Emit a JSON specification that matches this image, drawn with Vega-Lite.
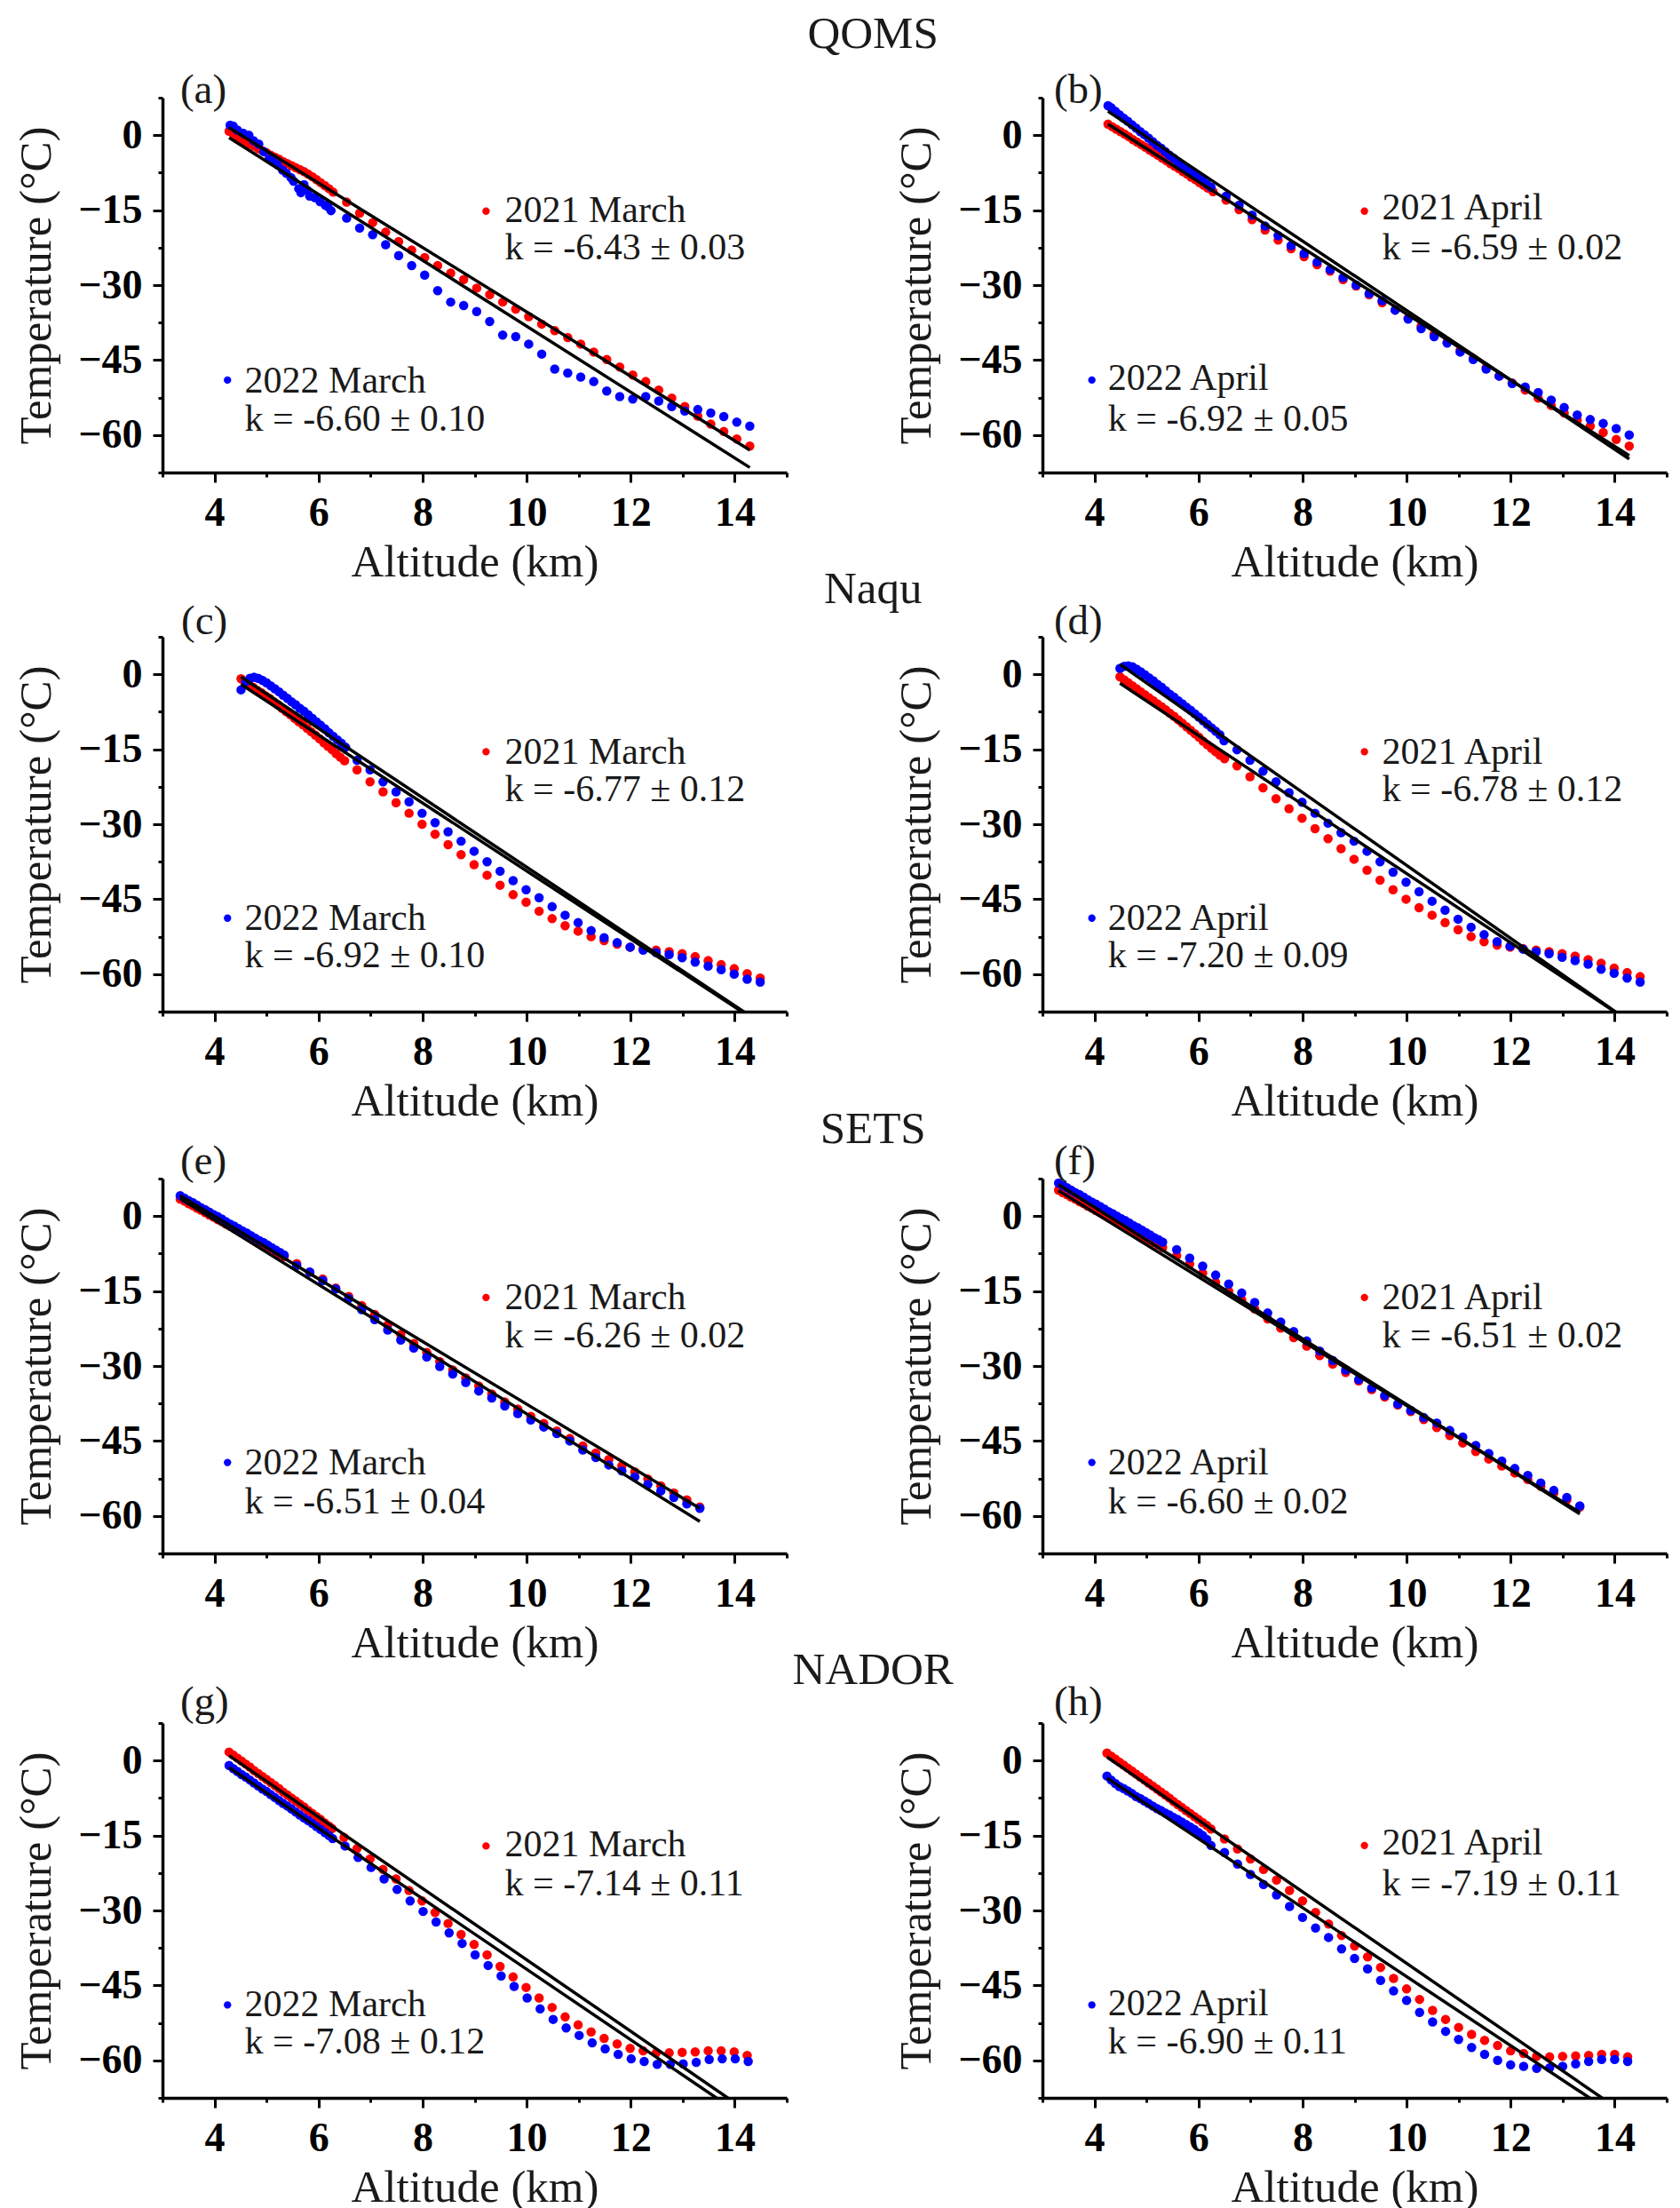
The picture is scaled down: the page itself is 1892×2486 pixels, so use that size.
{
"$schema":"https://vega.github.io/schema/vega-lite/v6.json",
"padding":{"left":15,"top":12,"right":5,"bottom":5},
"spacing":-20,
"config":{
 "view":{"stroke":null},
 "font":"Liberation Serif",
 "axis":{"domainColor":"#000","domainWidth":3.5,"tickColor":"#000","tickWidth":3,"labelFont":"Liberation Serif","labelFontWeight":"bold","labelFontSize":46,"labelColor":"#000","titleFont":"Liberation Serif","titleFontWeight":"normal","titleFontSize":51,"titleColor":"#1a1a1a","grid":false,"labelPadding":12,"labelOverlap":false,"labelFlush":false,"labelBound":false},
 "axisX":{"titlePadding":8},
 "axisY":{"titlePadding":20},
 "title":{"font":"Liberation Serif","fontWeight":"normal","color":"#1a1a1a"}
},
"datasets":{
"pts":[
{"p":"a","s":"2021","x":4.28,"y":0.8},{"p":"a","s":"2021","x":4.36,"y":0.3},{"p":"a","s":"2021","x":4.44,"y":-0.3},{"p":"a","s":"2021","x":4.52,"y":-0.8},{"p":"a","s":"2021","x":4.6,"y":-1.3},{"p":"a","s":"2021","x":4.68,"y":-1.8},{"p":"a","s":"2021","x":4.76,"y":-2.2},{"p":"a","s":"2021","x":4.84,"y":-2.7},{"p":"a","s":"2021","x":4.92,"y":-3.1},{"p":"a","s":"2021","x":5.0,"y":-3.5},{"p":"a","s":"2021","x":5.08,"y":-4.0},{"p":"a","s":"2021","x":5.16,"y":-4.4},{"p":"a","s":"2021","x":5.24,"y":-4.8},{"p":"a","s":"2021","x":5.32,"y":-5.3},{"p":"a","s":"2021","x":5.4,"y":-5.7},{"p":"a","s":"2021","x":5.48,"y":-6.1},{"p":"a","s":"2021","x":5.56,"y":-6.5},{"p":"a","s":"2021","x":5.64,"y":-6.9},{"p":"a","s":"2021","x":5.72,"y":-7.3},{"p":"a","s":"2021","x":5.8,"y":-7.8},{"p":"a","s":"2021","x":5.88,"y":-8.3},{"p":"a","s":"2021","x":5.96,"y":-8.9},{"p":"a","s":"2021","x":6.04,"y":-9.5},{"p":"a","s":"2021","x":6.12,"y":-10.1},{"p":"a","s":"2021","x":6.2,"y":-10.7},{"p":"a","s":"2021","x":6.28,"y":-11.4},
{"p":"a","s":"2021","x":6.54,"y":-13.4},{"p":"a","s":"2021","x":6.79,"y":-15.6},{"p":"a","s":"2021","x":7.04,"y":-17.5},{"p":"a","s":"2021","x":7.29,"y":-19.4},{"p":"a","s":"2021","x":7.54,"y":-21.3},{"p":"a","s":"2021","x":7.79,"y":-23.0},{"p":"a","s":"2021","x":8.04,"y":-24.5},{"p":"a","s":"2021","x":8.29,"y":-26.1},{"p":"a","s":"2021","x":8.54,"y":-27.6},{"p":"a","s":"2021","x":8.79,"y":-28.9},{"p":"a","s":"2021","x":9.04,"y":-30.6},{"p":"a","s":"2021","x":9.29,"y":-31.9},{"p":"a","s":"2021","x":9.54,"y":-33.4},{"p":"a","s":"2021","x":9.79,"y":-34.8},{"p":"a","s":"2021","x":10.04,"y":-36.3},{"p":"a","s":"2021","x":10.29,"y":-37.8},{"p":"a","s":"2021","x":10.54,"y":-39.1},{"p":"a","s":"2021","x":10.79,"y":-40.5},{"p":"a","s":"2021","x":11.04,"y":-41.8},{"p":"a","s":"2021","x":11.29,"y":-43.4},{"p":"a","s":"2021","x":11.54,"y":-44.9},{"p":"a","s":"2021","x":11.79,"y":-46.4},{"p":"a","s":"2021","x":12.04,"y":-48.0},{"p":"a","s":"2021","x":12.29,"y":-49.3},{"p":"a","s":"2021","x":12.54,"y":-51.0},{"p":"a","s":"2021","x":12.79,"y":-52.6},{"p":"a","s":"2021","x":13.04,"y":-54.3},{"p":"a","s":"2021","x":13.29,"y":-56.2},{"p":"a","s":"2021","x":13.54,"y":-57.8},{"p":"a","s":"2021","x":13.79,"y":-59.3},{"p":"a","s":"2021","x":14.04,"y":-60.8},{"p":"a","s":"2021","x":14.29,"y":-62.2},
{"p":"a","s":"2022","x":4.3,"y":2.0},{"p":"a","s":"2022","x":4.36,"y":1.8},{"p":"a","s":"2022","x":4.44,"y":1.0},{"p":"a","s":"2022","x":4.55,"y":0.4},{"p":"a","s":"2022","x":4.66,"y":0.0},{"p":"a","s":"2022","x":4.75,"y":-1.1},{"p":"a","s":"2022","x":4.85,"y":-1.8},{"p":"a","s":"2022","x":4.95,"y":-3.3},{"p":"a","s":"2022","x":5.05,"y":-4.8},{"p":"a","s":"2022","x":5.12,"y":-5.3},{"p":"a","s":"2022","x":5.21,"y":-5.9},{"p":"a","s":"2022","x":5.31,"y":-7.0},{"p":"a","s":"2022","x":5.38,"y":-7.6},{"p":"a","s":"2022","x":5.47,"y":-8.5},{"p":"a","s":"2022","x":5.52,"y":-9.2},{"p":"a","s":"2022","x":5.62,"y":-10.7},{"p":"a","s":"2022","x":5.66,"y":-11.5},{"p":"a","s":"2022","x":5.72,"y":-9.9},{"p":"a","s":"2022","x":5.78,"y":-11.0},{"p":"a","s":"2022","x":5.83,"y":-12.2},{"p":"a","s":"2022","x":5.93,"y":-12.5},{"p":"a","s":"2022","x":6.03,"y":-13.3},{"p":"a","s":"2022","x":6.13,"y":-14.0},{"p":"a","s":"2022","x":6.18,"y":-14.3},{"p":"a","s":"2022","x":6.24,"y":-15.1},
{"p":"a","s":"2022","x":6.54,"y":-16.6},{"p":"a","s":"2022","x":6.79,"y":-18.6},{"p":"a","s":"2022","x":7.04,"y":-19.9},{"p":"a","s":"2022","x":7.29,"y":-21.9},{"p":"a","s":"2022","x":7.54,"y":-24.1},{"p":"a","s":"2022","x":7.79,"y":-26.1},{"p":"a","s":"2022","x":8.04,"y":-28.0},{"p":"a","s":"2022","x":8.29,"y":-31.1},{"p":"a","s":"2022","x":8.54,"y":-33.4},{"p":"a","s":"2022","x":8.79,"y":-34.1},{"p":"a","s":"2022","x":9.04,"y":-35.3},{"p":"a","s":"2022","x":9.29,"y":-37.3},{"p":"a","s":"2022","x":9.54,"y":-40.0},{"p":"a","s":"2022","x":9.79,"y":-40.3},{"p":"a","s":"2022","x":10.04,"y":-41.8},{"p":"a","s":"2022","x":10.29,"y":-43.8},{"p":"a","s":"2022","x":10.54,"y":-46.8},{"p":"a","s":"2022","x":10.79,"y":-47.6},{"p":"a","s":"2022","x":11.04,"y":-48.4},{"p":"a","s":"2022","x":11.29,"y":-49.3},{"p":"a","s":"2022","x":11.54,"y":-51.2},{"p":"a","s":"2022","x":11.79,"y":-52.3},{"p":"a","s":"2022","x":12.04,"y":-52.8},{"p":"a","s":"2022","x":12.29,"y":-52.3},{"p":"a","s":"2022","x":12.54,"y":-53.2},{"p":"a","s":"2022","x":12.79,"y":-54.3},{"p":"a","s":"2022","x":13.04,"y":-55.2},{"p":"a","s":"2022","x":13.29,"y":-54.9},{"p":"a","s":"2022","x":13.54,"y":-55.6},{"p":"a","s":"2022","x":13.79,"y":-56.3},{"p":"a","s":"2022","x":14.04,"y":-57.4},{"p":"a","s":"2022","x":14.29,"y":-58.2},

{"p":"b","s":"2021","x":4.26,"y":2.2},{"p":"b","s":"2021","x":4.34,"y":1.7},{"p":"b","s":"2021","x":4.42,"y":1.2},{"p":"b","s":"2021","x":4.5,"y":0.7},{"p":"b","s":"2021","x":4.58,"y":0.2},{"p":"b","s":"2021","x":4.66,"y":-0.3},{"p":"b","s":"2021","x":4.74,"y":-0.9},{"p":"b","s":"2021","x":4.82,"y":-1.4},{"p":"b","s":"2021","x":4.9,"y":-1.9},{"p":"b","s":"2021","x":4.98,"y":-2.4},{"p":"b","s":"2021","x":5.06,"y":-3.0},{"p":"b","s":"2021","x":5.14,"y":-3.5},{"p":"b","s":"2021","x":5.22,"y":-4.0},{"p":"b","s":"2021","x":5.3,"y":-4.6},{"p":"b","s":"2021","x":5.38,"y":-5.1},{"p":"b","s":"2021","x":5.46,"y":-5.7},{"p":"b","s":"2021","x":5.54,"y":-6.2},{"p":"b","s":"2021","x":5.62,"y":-6.7},{"p":"b","s":"2021","x":5.7,"y":-7.3},{"p":"b","s":"2021","x":5.78,"y":-7.8},{"p":"b","s":"2021","x":5.86,"y":-8.4},{"p":"b","s":"2021","x":5.94,"y":-8.9},{"p":"b","s":"2021","x":6.02,"y":-9.5},{"p":"b","s":"2021","x":6.1,"y":-10.0},{"p":"b","s":"2021","x":6.18,"y":-10.6},
{"p":"b","s":"2021","x":6.28,"y":-11.3},{"p":"b","s":"2021","x":6.53,"y":-13.0},{"p":"b","s":"2021","x":6.78,"y":-14.9},{"p":"b","s":"2021","x":7.03,"y":-16.9},{"p":"b","s":"2021","x":7.28,"y":-19.0},{"p":"b","s":"2021","x":7.53,"y":-21.0},{"p":"b","s":"2021","x":7.78,"y":-22.7},{"p":"b","s":"2021","x":8.03,"y":-24.3},{"p":"b","s":"2021","x":8.28,"y":-25.9},{"p":"b","s":"2021","x":8.53,"y":-27.2},{"p":"b","s":"2021","x":8.78,"y":-28.9},{"p":"b","s":"2021","x":9.03,"y":-30.2},{"p":"b","s":"2021","x":9.28,"y":-31.9},{"p":"b","s":"2021","x":9.53,"y":-33.5},{"p":"b","s":"2021","x":9.78,"y":-35.0},{"p":"b","s":"2021","x":10.03,"y":-36.6},{"p":"b","s":"2021","x":10.28,"y":-38.2},{"p":"b","s":"2021","x":10.53,"y":-39.8},{"p":"b","s":"2021","x":10.78,"y":-41.4},{"p":"b","s":"2021","x":11.03,"y":-43.0},{"p":"b","s":"2021","x":11.28,"y":-44.7},{"p":"b","s":"2021","x":11.53,"y":-46.5},{"p":"b","s":"2021","x":11.78,"y":-48.2},{"p":"b","s":"2021","x":12.03,"y":-49.6},{"p":"b","s":"2021","x":12.28,"y":-51.0},{"p":"b","s":"2021","x":12.53,"y":-52.6},{"p":"b","s":"2021","x":12.78,"y":-54.1},{"p":"b","s":"2021","x":13.03,"y":-55.6},{"p":"b","s":"2021","x":13.28,"y":-57.0},{"p":"b","s":"2021","x":13.53,"y":-58.2},{"p":"b","s":"2021","x":13.78,"y":-59.5},{"p":"b","s":"2021","x":14.03,"y":-60.9},{"p":"b","s":"2021","x":14.28,"y":-62.2},
{"p":"b","s":"2022","x":4.26,"y":5.9},{"p":"b","s":"2022","x":4.32,"y":5.5},{"p":"b","s":"2022","x":4.4,"y":4.8},{"p":"b","s":"2022","x":4.48,"y":4.1},{"p":"b","s":"2022","x":4.56,"y":3.4},{"p":"b","s":"2022","x":4.64,"y":2.8},{"p":"b","s":"2022","x":4.72,"y":2.1},{"p":"b","s":"2022","x":4.8,"y":1.4},{"p":"b","s":"2022","x":4.88,"y":0.7},{"p":"b","s":"2022","x":4.96,"y":0.1},{"p":"b","s":"2022","x":5.04,"y":-0.6},{"p":"b","s":"2022","x":5.12,"y":-1.3},{"p":"b","s":"2022","x":5.2,"y":-2.0},{"p":"b","s":"2022","x":5.28,"y":-2.6},{"p":"b","s":"2022","x":5.36,"y":-3.3},{"p":"b","s":"2022","x":5.44,"y":-4.0},{"p":"b","s":"2022","x":5.52,"y":-4.6},{"p":"b","s":"2022","x":5.6,"y":-5.3},{"p":"b","s":"2022","x":5.68,"y":-5.9},{"p":"b","s":"2022","x":5.76,"y":-6.6},{"p":"b","s":"2022","x":5.84,"y":-7.2},{"p":"b","s":"2022","x":5.92,"y":-7.9},{"p":"b","s":"2022","x":6.0,"y":-8.5},{"p":"b","s":"2022","x":6.08,"y":-9.1},{"p":"b","s":"2022","x":6.16,"y":-9.8},{"p":"b","s":"2022","x":6.24,"y":-10.4},
{"p":"b","s":"2022","x":6.53,"y":-12.2},{"p":"b","s":"2022","x":6.78,"y":-14.0},{"p":"b","s":"2022","x":7.03,"y":-16.0},{"p":"b","s":"2022","x":7.28,"y":-18.2},{"p":"b","s":"2022","x":7.53,"y":-20.1},{"p":"b","s":"2022","x":7.78,"y":-22.1},{"p":"b","s":"2022","x":8.03,"y":-23.7},{"p":"b","s":"2022","x":8.28,"y":-25.4},{"p":"b","s":"2022","x":8.53,"y":-26.9},{"p":"b","s":"2022","x":8.78,"y":-28.5},{"p":"b","s":"2022","x":9.03,"y":-30.0},{"p":"b","s":"2022","x":9.28,"y":-31.7},{"p":"b","s":"2022","x":9.53,"y":-33.1},{"p":"b","s":"2022","x":9.78,"y":-35.0},{"p":"b","s":"2022","x":10.03,"y":-36.8},{"p":"b","s":"2022","x":10.28,"y":-38.7},{"p":"b","s":"2022","x":10.53,"y":-40.3},{"p":"b","s":"2022","x":10.78,"y":-41.6},{"p":"b","s":"2022","x":11.03,"y":-43.4},{"p":"b","s":"2022","x":11.28,"y":-44.9},{"p":"b","s":"2022","x":11.53,"y":-46.8},{"p":"b","s":"2022","x":11.78,"y":-48.2},{"p":"b","s":"2022","x":12.03,"y":-49.7},{"p":"b","s":"2022","x":12.28,"y":-50.4},{"p":"b","s":"2022","x":12.53,"y":-51.5},{"p":"b","s":"2022","x":12.78,"y":-53.0},{"p":"b","s":"2022","x":13.03,"y":-54.5},{"p":"b","s":"2022","x":13.28,"y":-56.0},{"p":"b","s":"2022","x":13.53,"y":-56.9},{"p":"b","s":"2022","x":13.78,"y":-57.7},{"p":"b","s":"2022","x":14.03,"y":-58.7},{"p":"b","s":"2022","x":14.28,"y":-60.0},

{"p":"c","s":"2021","x":4.51,"y":-0.9},{"p":"c","s":"2021","x":4.58,"y":-1.5},{"p":"c","s":"2021","x":4.66,"y":-2.0},{"p":"c","s":"2021","x":4.74,"y":-2.6},{"p":"c","s":"2021","x":4.82,"y":-3.2},{"p":"c","s":"2021","x":4.9,"y":-3.7},{"p":"c","s":"2021","x":4.98,"y":-4.3},{"p":"c","s":"2021","x":5.06,"y":-4.8},{"p":"c","s":"2021","x":5.14,"y":-5.5},{"p":"c","s":"2021","x":5.22,"y":-6.1},{"p":"c","s":"2021","x":5.3,"y":-6.8},{"p":"c","s":"2021","x":5.38,"y":-7.5},{"p":"c","s":"2021","x":5.46,"y":-8.1},{"p":"c","s":"2021","x":5.54,"y":-8.8},{"p":"c","s":"2021","x":5.62,"y":-9.5},{"p":"c","s":"2021","x":5.7,"y":-10.1},{"p":"c","s":"2021","x":5.78,"y":-10.8},{"p":"c","s":"2021","x":5.86,"y":-11.5},{"p":"c","s":"2021","x":5.94,"y":-12.2},{"p":"c","s":"2021","x":6.02,"y":-12.9},{"p":"c","s":"2021","x":6.1,"y":-13.7},{"p":"c","s":"2021","x":6.18,"y":-14.4},{"p":"c","s":"2021","x":6.26,"y":-15.1},{"p":"c","s":"2021","x":6.34,"y":-15.9},{"p":"c","s":"2021","x":6.42,"y":-16.6},{"p":"c","s":"2021","x":6.5,"y":-17.3},
{"p":"c","s":"2021","x":6.74,"y":-19.1},{"p":"c","s":"2021","x":6.99,"y":-21.5},{"p":"c","s":"2021","x":7.24,"y":-23.5},{"p":"c","s":"2021","x":7.49,"y":-25.7},{"p":"c","s":"2021","x":7.74,"y":-27.8},{"p":"c","s":"2021","x":7.99,"y":-30.0},{"p":"c","s":"2021","x":8.24,"y":-32.0},{"p":"c","s":"2021","x":8.49,"y":-34.1},{"p":"c","s":"2021","x":8.74,"y":-36.1},{"p":"c","s":"2021","x":8.99,"y":-38.1},{"p":"c","s":"2021","x":9.24,"y":-40.2},{"p":"c","s":"2021","x":9.49,"y":-42.2},{"p":"c","s":"2021","x":9.74,"y":-44.1},{"p":"c","s":"2021","x":9.99,"y":-45.6},{"p":"c","s":"2021","x":10.24,"y":-47.4},{"p":"c","s":"2021","x":10.49,"y":-48.9},{"p":"c","s":"2021","x":10.74,"y":-50.3},{"p":"c","s":"2021","x":10.99,"y":-51.4},{"p":"c","s":"2021","x":11.24,"y":-52.5},{"p":"c","s":"2021","x":11.49,"y":-53.3},{"p":"c","s":"2021","x":11.74,"y":-54.0},{"p":"c","s":"2021","x":11.99,"y":-54.6},{"p":"c","s":"2021","x":12.24,"y":-54.9},{"p":"c","s":"2021","x":12.49,"y":-55.2},{"p":"c","s":"2021","x":12.74,"y":-55.5},{"p":"c","s":"2021","x":12.99,"y":-55.9},{"p":"c","s":"2021","x":13.24,"y":-56.5},{"p":"c","s":"2021","x":13.49,"y":-57.3},{"p":"c","s":"2021","x":13.74,"y":-58.1},{"p":"c","s":"2021","x":13.99,"y":-58.9},{"p":"c","s":"2021","x":14.24,"y":-59.9},{"p":"c","s":"2021","x":14.49,"y":-60.8},
{"p":"c","s":"2022","x":4.51,"y":-3.1},{"p":"c","s":"2022","x":4.6,"y":-1.5},{"p":"c","s":"2022","x":4.68,"y":-0.8},{"p":"c","s":"2022","x":4.76,"y":-0.6},{"p":"c","s":"2022","x":4.84,"y":-0.8},{"p":"c","s":"2022","x":4.92,"y":-1.2},{"p":"c","s":"2022","x":5.0,"y":-1.7},{"p":"c","s":"2022","x":5.08,"y":-2.3},{"p":"c","s":"2022","x":5.16,"y":-2.9},{"p":"c","s":"2022","x":5.24,"y":-3.5},{"p":"c","s":"2022","x":5.32,"y":-4.2},{"p":"c","s":"2022","x":5.4,"y":-4.8},{"p":"c","s":"2022","x":5.48,"y":-5.5},{"p":"c","s":"2022","x":5.56,"y":-6.1},{"p":"c","s":"2022","x":5.64,"y":-6.8},{"p":"c","s":"2022","x":5.72,"y":-7.4},{"p":"c","s":"2022","x":5.8,"y":-8.1},{"p":"c","s":"2022","x":5.88,"y":-8.8},{"p":"c","s":"2022","x":5.96,"y":-9.5},{"p":"c","s":"2022","x":6.04,"y":-10.2},{"p":"c","s":"2022","x":6.12,"y":-10.9},{"p":"c","s":"2022","x":6.2,"y":-11.7},{"p":"c","s":"2022","x":6.28,"y":-12.4},{"p":"c","s":"2022","x":6.36,"y":-13.1},{"p":"c","s":"2022","x":6.44,"y":-13.8},{"p":"c","s":"2022","x":6.52,"y":-14.6},
{"p":"c","s":"2022","x":6.74,"y":-17.2},{"p":"c","s":"2022","x":6.99,"y":-19.1},{"p":"c","s":"2022","x":7.24,"y":-21.5},{"p":"c","s":"2022","x":7.49,"y":-23.5},{"p":"c","s":"2022","x":7.74,"y":-25.5},{"p":"c","s":"2022","x":7.99,"y":-27.8},{"p":"c","s":"2022","x":8.24,"y":-29.7},{"p":"c","s":"2022","x":8.49,"y":-31.5},{"p":"c","s":"2022","x":8.74,"y":-33.4},{"p":"c","s":"2022","x":8.99,"y":-35.4},{"p":"c","s":"2022","x":9.24,"y":-37.5},{"p":"c","s":"2022","x":9.49,"y":-39.4},{"p":"c","s":"2022","x":9.74,"y":-41.3},{"p":"c","s":"2022","x":9.99,"y":-43.1},{"p":"c","s":"2022","x":10.24,"y":-44.7},{"p":"c","s":"2022","x":10.49,"y":-46.5},{"p":"c","s":"2022","x":10.74,"y":-48.2},{"p":"c","s":"2022","x":10.99,"y":-49.7},{"p":"c","s":"2022","x":11.24,"y":-51.3},{"p":"c","s":"2022","x":11.49,"y":-52.7},{"p":"c","s":"2022","x":11.74,"y":-53.7},{"p":"c","s":"2022","x":11.99,"y":-54.6},{"p":"c","s":"2022","x":12.24,"y":-55.2},{"p":"c","s":"2022","x":12.49,"y":-55.7},{"p":"c","s":"2022","x":12.74,"y":-56.1},{"p":"c","s":"2022","x":12.99,"y":-56.7},{"p":"c","s":"2022","x":13.24,"y":-57.6},{"p":"c","s":"2022","x":13.49,"y":-58.4},{"p":"c","s":"2022","x":13.74,"y":-59.1},{"p":"c","s":"2022","x":13.99,"y":-60.0},{"p":"c","s":"2022","x":14.24,"y":-61.0},{"p":"c","s":"2022","x":14.49,"y":-61.6},

{"p":"d","s":"2021","x":4.49,"y":-0.5},{"p":"d","s":"2021","x":4.57,"y":-1.1},{"p":"d","s":"2021","x":4.65,"y":-1.7},{"p":"d","s":"2021","x":4.73,"y":-2.3},{"p":"d","s":"2021","x":4.81,"y":-2.9},{"p":"d","s":"2021","x":4.89,"y":-3.5},{"p":"d","s":"2021","x":4.97,"y":-4.1},{"p":"d","s":"2021","x":5.05,"y":-4.7},{"p":"d","s":"2021","x":5.13,"y":-5.3},{"p":"d","s":"2021","x":5.21,"y":-5.9},{"p":"d","s":"2021","x":5.29,"y":-6.5},{"p":"d","s":"2021","x":5.37,"y":-7.1},{"p":"d","s":"2021","x":5.45,"y":-7.8},{"p":"d","s":"2021","x":5.53,"y":-8.4},{"p":"d","s":"2021","x":5.61,"y":-9.1},{"p":"d","s":"2021","x":5.69,"y":-9.8},{"p":"d","s":"2021","x":5.77,"y":-10.5},{"p":"d","s":"2021","x":5.85,"y":-11.2},{"p":"d","s":"2021","x":5.93,"y":-11.9},{"p":"d","s":"2021","x":6.01,"y":-12.6},{"p":"d","s":"2021","x":6.09,"y":-13.4},{"p":"d","s":"2021","x":6.17,"y":-14.1},{"p":"d","s":"2021","x":6.25,"y":-14.8},{"p":"d","s":"2021","x":6.33,"y":-15.5},{"p":"d","s":"2021","x":6.41,"y":-16.2},{"p":"d","s":"2021","x":6.5,"y":-16.9},
{"p":"d","s":"2021","x":6.74,"y":-18.3},{"p":"d","s":"2021","x":6.99,"y":-20.5},{"p":"d","s":"2021","x":7.24,"y":-22.7},{"p":"d","s":"2021","x":7.49,"y":-24.9},{"p":"d","s":"2021","x":7.74,"y":-26.9},{"p":"d","s":"2021","x":7.99,"y":-28.8},{"p":"d","s":"2021","x":8.24,"y":-30.9},{"p":"d","s":"2021","x":8.49,"y":-32.9},{"p":"d","s":"2021","x":8.74,"y":-34.9},{"p":"d","s":"2021","x":8.99,"y":-37.0},{"p":"d","s":"2021","x":9.24,"y":-39.2},{"p":"d","s":"2021","x":9.49,"y":-41.2},{"p":"d","s":"2021","x":9.74,"y":-43.1},{"p":"d","s":"2021","x":9.99,"y":-45.0},{"p":"d","s":"2021","x":10.24,"y":-46.7},{"p":"d","s":"2021","x":10.49,"y":-48.2},{"p":"d","s":"2021","x":10.74,"y":-49.7},{"p":"d","s":"2021","x":10.99,"y":-51.1},{"p":"d","s":"2021","x":11.24,"y":-52.5},{"p":"d","s":"2021","x":11.49,"y":-53.5},{"p":"d","s":"2021","x":11.74,"y":-54.2},{"p":"d","s":"2021","x":11.99,"y":-54.6},{"p":"d","s":"2021","x":12.24,"y":-54.9},{"p":"d","s":"2021","x":12.49,"y":-55.2},{"p":"d","s":"2021","x":12.74,"y":-55.5},{"p":"d","s":"2021","x":12.99,"y":-55.9},{"p":"d","s":"2021","x":13.24,"y":-56.4},{"p":"d","s":"2021","x":13.49,"y":-57.1},{"p":"d","s":"2021","x":13.74,"y":-57.8},{"p":"d","s":"2021","x":13.99,"y":-58.8},{"p":"d","s":"2021","x":14.24,"y":-59.7},{"p":"d","s":"2021","x":14.49,"y":-60.5},
{"p":"d","s":"2022","x":4.49,"y":1.2},{"p":"d","s":"2022","x":4.57,"y":1.6},{"p":"d","s":"2022","x":4.65,"y":1.7},{"p":"d","s":"2022","x":4.73,"y":1.5},{"p":"d","s":"2022","x":4.81,"y":1.0},{"p":"d","s":"2022","x":4.89,"y":0.5},{"p":"d","s":"2022","x":4.97,"y":-0.1},{"p":"d","s":"2022","x":5.05,"y":-0.7},{"p":"d","s":"2022","x":5.13,"y":-1.3},{"p":"d","s":"2022","x":5.21,"y":-2.0},{"p":"d","s":"2022","x":5.29,"y":-2.6},{"p":"d","s":"2022","x":5.37,"y":-3.3},{"p":"d","s":"2022","x":5.45,"y":-4.0},{"p":"d","s":"2022","x":5.53,"y":-4.6},{"p":"d","s":"2022","x":5.61,"y":-5.3},{"p":"d","s":"2022","x":5.69,"y":-5.9},{"p":"d","s":"2022","x":5.77,"y":-6.6},{"p":"d","s":"2022","x":5.85,"y":-7.2},{"p":"d","s":"2022","x":5.93,"y":-7.9},{"p":"d","s":"2022","x":6.01,"y":-8.6},{"p":"d","s":"2022","x":6.09,"y":-9.3},{"p":"d","s":"2022","x":6.17,"y":-10.0},{"p":"d","s":"2022","x":6.25,"y":-10.7},{"p":"d","s":"2022","x":6.33,"y":-11.4},{"p":"d","s":"2022","x":6.41,"y":-12.1},
{"p":"d","s":"2022","x":6.49,"y":-13.3},{"p":"d","s":"2022","x":6.74,"y":-15.1},{"p":"d","s":"2022","x":6.99,"y":-17.2},{"p":"d","s":"2022","x":7.24,"y":-19.4},{"p":"d","s":"2022","x":7.49,"y":-21.5},{"p":"d","s":"2022","x":7.74,"y":-23.7},{"p":"d","s":"2022","x":7.99,"y":-25.6},{"p":"d","s":"2022","x":8.24,"y":-27.8},{"p":"d","s":"2022","x":8.49,"y":-29.8},{"p":"d","s":"2022","x":8.74,"y":-31.7},{"p":"d","s":"2022","x":8.99,"y":-33.4},{"p":"d","s":"2022","x":9.24,"y":-35.4},{"p":"d","s":"2022","x":9.49,"y":-37.5},{"p":"d","s":"2022","x":9.74,"y":-39.6},{"p":"d","s":"2022","x":9.99,"y":-41.6},{"p":"d","s":"2022","x":10.24,"y":-43.5},{"p":"d","s":"2022","x":10.49,"y":-45.4},{"p":"d","s":"2022","x":10.74,"y":-47.2},{"p":"d","s":"2022","x":10.99,"y":-49.0},{"p":"d","s":"2022","x":11.24,"y":-50.6},{"p":"d","s":"2022","x":11.49,"y":-52.1},{"p":"d","s":"2022","x":11.74,"y":-53.5},{"p":"d","s":"2022","x":11.99,"y":-54.4},{"p":"d","s":"2022","x":12.24,"y":-55.0},{"p":"d","s":"2022","x":12.49,"y":-55.5},{"p":"d","s":"2022","x":12.74,"y":-55.9},{"p":"d","s":"2022","x":12.99,"y":-56.6},{"p":"d","s":"2022","x":13.24,"y":-57.3},{"p":"d","s":"2022","x":13.49,"y":-58.0},{"p":"d","s":"2022","x":13.74,"y":-59.0},{"p":"d","s":"2022","x":13.99,"y":-59.8},{"p":"d","s":"2022","x":14.24,"y":-60.8},{"p":"d","s":"2022","x":14.49,"y":-61.6},

{"p":"e","s":"2021","x":3.34,"y":3.4},{"p":"e","s":"2021","x":3.42,"y":3.0},{"p":"e","s":"2021","x":3.5,"y":2.5},{"p":"e","s":"2021","x":3.58,"y":2.1},{"p":"e","s":"2021","x":3.66,"y":1.6},{"p":"e","s":"2021","x":3.74,"y":1.2},{"p":"e","s":"2021","x":3.82,"y":0.7},{"p":"e","s":"2021","x":3.9,"y":0.2},{"p":"e","s":"2021","x":3.98,"y":-0.2},{"p":"e","s":"2021","x":4.06,"y":-0.7},{"p":"e","s":"2021","x":4.14,"y":-1.1},{"p":"e","s":"2021","x":4.22,"y":-1.6},{"p":"e","s":"2021","x":4.3,"y":-2.0},{"p":"e","s":"2021","x":4.38,"y":-2.5},{"p":"e","s":"2021","x":4.46,"y":-3.0},{"p":"e","s":"2021","x":4.54,"y":-3.4},{"p":"e","s":"2021","x":4.62,"y":-3.9},{"p":"e","s":"2021","x":4.7,"y":-4.3},{"p":"e","s":"2021","x":4.78,"y":-4.8},{"p":"e","s":"2021","x":4.86,"y":-5.3},{"p":"e","s":"2021","x":4.94,"y":-5.7},{"p":"e","s":"2021","x":5.02,"y":-6.2},{"p":"e","s":"2021","x":5.1,"y":-6.6},{"p":"e","s":"2021","x":5.18,"y":-7.1},{"p":"e","s":"2021","x":5.26,"y":-7.6},{"p":"e","s":"2021","x":5.34,"y":-8.1},
{"p":"e","s":"2021","x":5.58,"y":-9.5},{"p":"e","s":"2021","x":5.83,"y":-11.2},{"p":"e","s":"2021","x":6.08,"y":-12.6},{"p":"e","s":"2021","x":6.33,"y":-14.4},{"p":"e","s":"2021","x":6.58,"y":-16.1},{"p":"e","s":"2021","x":6.83,"y":-17.9},{"p":"e","s":"2021","x":7.08,"y":-19.7},{"p":"e","s":"2021","x":7.33,"y":-21.8},{"p":"e","s":"2021","x":7.58,"y":-23.7},{"p":"e","s":"2021","x":7.83,"y":-25.5},{"p":"e","s":"2021","x":8.08,"y":-27.3},{"p":"e","s":"2021","x":8.33,"y":-29.1},{"p":"e","s":"2021","x":8.58,"y":-30.8},{"p":"e","s":"2021","x":8.83,"y":-32.4},{"p":"e","s":"2021","x":9.08,"y":-34.0},{"p":"e","s":"2021","x":9.33,"y":-35.6},{"p":"e","s":"2021","x":9.58,"y":-37.2},{"p":"e","s":"2021","x":9.83,"y":-38.6},{"p":"e","s":"2021","x":10.08,"y":-40.1},{"p":"e","s":"2021","x":10.33,"y":-41.5},{"p":"e","s":"2021","x":10.58,"y":-43.0},{"p":"e","s":"2021","x":10.83,"y":-44.5},{"p":"e","s":"2021","x":11.08,"y":-46.0},{"p":"e","s":"2021","x":11.33,"y":-47.4},{"p":"e","s":"2021","x":11.58,"y":-48.7},{"p":"e","s":"2021","x":11.83,"y":-50.0},{"p":"e","s":"2021","x":12.08,"y":-51.2},{"p":"e","s":"2021","x":12.33,"y":-52.6},{"p":"e","s":"2021","x":12.58,"y":-54.0},{"p":"e","s":"2021","x":12.83,"y":-55.4},{"p":"e","s":"2021","x":13.08,"y":-56.8},{"p":"e","s":"2021","x":13.33,"y":-58.2},
{"p":"e","s":"2022","x":3.34,"y":4.1},{"p":"e","s":"2022","x":3.42,"y":3.6},{"p":"e","s":"2022","x":3.5,"y":3.1},{"p":"e","s":"2022","x":3.58,"y":2.7},{"p":"e","s":"2022","x":3.66,"y":2.2},{"p":"e","s":"2022","x":3.74,"y":1.7},{"p":"e","s":"2022","x":3.82,"y":1.3},{"p":"e","s":"2022","x":3.9,"y":0.8},{"p":"e","s":"2022","x":3.98,"y":0.3},{"p":"e","s":"2022","x":4.06,"y":-0.1},{"p":"e","s":"2022","x":4.14,"y":-0.6},{"p":"e","s":"2022","x":4.22,"y":-1.1},{"p":"e","s":"2022","x":4.3,"y":-1.6},{"p":"e","s":"2022","x":4.38,"y":-2.0},{"p":"e","s":"2022","x":4.46,"y":-2.5},{"p":"e","s":"2022","x":4.54,"y":-3.0},{"p":"e","s":"2022","x":4.62,"y":-3.4},{"p":"e","s":"2022","x":4.7,"y":-3.9},{"p":"e","s":"2022","x":4.78,"y":-4.4},{"p":"e","s":"2022","x":4.86,"y":-4.9},{"p":"e","s":"2022","x":4.94,"y":-5.3},{"p":"e","s":"2022","x":5.02,"y":-5.8},{"p":"e","s":"2022","x":5.1,"y":-6.3},{"p":"e","s":"2022","x":5.18,"y":-6.8},{"p":"e","s":"2022","x":5.26,"y":-7.3},{"p":"e","s":"2022","x":5.34,"y":-7.8},
{"p":"e","s":"2022","x":5.58,"y":-9.9},{"p":"e","s":"2022","x":5.83,"y":-11.2},{"p":"e","s":"2022","x":6.08,"y":-12.9},{"p":"e","s":"2022","x":6.33,"y":-14.6},{"p":"e","s":"2022","x":6.58,"y":-16.5},{"p":"e","s":"2022","x":6.83,"y":-18.7},{"p":"e","s":"2022","x":7.08,"y":-20.7},{"p":"e","s":"2022","x":7.33,"y":-22.8},{"p":"e","s":"2022","x":7.58,"y":-24.8},{"p":"e","s":"2022","x":7.83,"y":-26.4},{"p":"e","s":"2022","x":8.08,"y":-28.2},{"p":"e","s":"2022","x":8.33,"y":-30.1},{"p":"e","s":"2022","x":8.58,"y":-31.6},{"p":"e","s":"2022","x":8.83,"y":-33.3},{"p":"e","s":"2022","x":9.08,"y":-35.0},{"p":"e","s":"2022","x":9.33,"y":-36.4},{"p":"e","s":"2022","x":9.58,"y":-38.0},{"p":"e","s":"2022","x":9.83,"y":-39.5},{"p":"e","s":"2022","x":10.08,"y":-40.8},{"p":"e","s":"2022","x":10.33,"y":-42.2},{"p":"e","s":"2022","x":10.58,"y":-43.5},{"p":"e","s":"2022","x":10.83,"y":-45.0},{"p":"e","s":"2022","x":11.08,"y":-46.8},{"p":"e","s":"2022","x":11.33,"y":-48.3},{"p":"e","s":"2022","x":11.58,"y":-49.8},{"p":"e","s":"2022","x":11.83,"y":-51.0},{"p":"e","s":"2022","x":12.08,"y":-52.2},{"p":"e","s":"2022","x":12.33,"y":-53.7},{"p":"e","s":"2022","x":12.58,"y":-55.0},{"p":"e","s":"2022","x":12.83,"y":-56.3},{"p":"e","s":"2022","x":13.08,"y":-57.6},{"p":"e","s":"2022","x":13.33,"y":-58.5},

{"p":"f","s":"2021","x":3.31,"y":5.2},{"p":"f","s":"2021","x":3.39,"y":4.7},{"p":"f","s":"2021","x":3.47,"y":4.3},{"p":"f","s":"2021","x":3.55,"y":3.8},{"p":"f","s":"2021","x":3.63,"y":3.4},{"p":"f","s":"2021","x":3.71,"y":2.9},{"p":"f","s":"2021","x":3.79,"y":2.5},{"p":"f","s":"2021","x":3.87,"y":2.0},{"p":"f","s":"2021","x":3.95,"y":1.6},{"p":"f","s":"2021","x":4.03,"y":1.1},{"p":"f","s":"2021","x":4.11,"y":0.7},{"p":"f","s":"2021","x":4.19,"y":0.2},{"p":"f","s":"2021","x":4.27,"y":-0.3},{"p":"f","s":"2021","x":4.35,"y":-0.7},{"p":"f","s":"2021","x":4.43,"y":-1.2},{"p":"f","s":"2021","x":4.51,"y":-1.6},{"p":"f","s":"2021","x":4.59,"y":-2.1},{"p":"f","s":"2021","x":4.67,"y":-2.6},{"p":"f","s":"2021","x":4.75,"y":-3.0},{"p":"f","s":"2021","x":4.83,"y":-3.5},{"p":"f","s":"2021","x":4.91,"y":-4.0},{"p":"f","s":"2021","x":4.99,"y":-4.4},{"p":"f","s":"2021","x":5.07,"y":-4.9},{"p":"f","s":"2021","x":5.15,"y":-5.3},{"p":"f","s":"2021","x":5.23,"y":-5.8},{"p":"f","s":"2021","x":5.31,"y":-6.3},
{"p":"f","s":"2021","x":5.58,"y":-7.9},{"p":"f","s":"2021","x":5.83,"y":-9.6},{"p":"f","s":"2021","x":6.08,"y":-11.4},{"p":"f","s":"2021","x":6.33,"y":-13.3},{"p":"f","s":"2021","x":6.58,"y":-15.0},{"p":"f","s":"2021","x":6.83,"y":-16.7},{"p":"f","s":"2021","x":7.08,"y":-18.6},{"p":"f","s":"2021","x":7.33,"y":-20.6},{"p":"f","s":"2021","x":7.58,"y":-22.4},{"p":"f","s":"2021","x":7.83,"y":-24.3},{"p":"f","s":"2021","x":8.08,"y":-26.0},{"p":"f","s":"2021","x":8.33,"y":-27.9},{"p":"f","s":"2021","x":8.58,"y":-29.6},{"p":"f","s":"2021","x":8.83,"y":-31.3},{"p":"f","s":"2021","x":9.08,"y":-33.0},{"p":"f","s":"2021","x":9.33,"y":-34.7},{"p":"f","s":"2021","x":9.58,"y":-36.2},{"p":"f","s":"2021","x":9.83,"y":-37.8},{"p":"f","s":"2021","x":10.08,"y":-39.1},{"p":"f","s":"2021","x":10.33,"y":-40.7},{"p":"f","s":"2021","x":10.58,"y":-42.3},{"p":"f","s":"2021","x":10.83,"y":-43.9},{"p":"f","s":"2021","x":11.08,"y":-45.4},{"p":"f","s":"2021","x":11.33,"y":-47.1},{"p":"f","s":"2021","x":11.58,"y":-48.6},{"p":"f","s":"2021","x":11.83,"y":-50.0},{"p":"f","s":"2021","x":12.08,"y":-51.4},{"p":"f","s":"2021","x":12.33,"y":-52.7},{"p":"f","s":"2021","x":12.58,"y":-54.1},{"p":"f","s":"2021","x":12.83,"y":-55.4},{"p":"f","s":"2021","x":13.08,"y":-56.8},{"p":"f","s":"2021","x":13.33,"y":-58.2},
{"p":"f","s":"2022","x":3.31,"y":6.6},{"p":"f","s":"2022","x":3.39,"y":6.1},{"p":"f","s":"2022","x":3.47,"y":5.7},{"p":"f","s":"2022","x":3.55,"y":5.2},{"p":"f","s":"2022","x":3.63,"y":4.7},{"p":"f","s":"2022","x":3.71,"y":4.3},{"p":"f","s":"2022","x":3.79,"y":3.8},{"p":"f","s":"2022","x":3.87,"y":3.3},{"p":"f","s":"2022","x":3.95,"y":2.8},{"p":"f","s":"2022","x":4.03,"y":2.4},{"p":"f","s":"2022","x":4.11,"y":1.9},{"p":"f","s":"2022","x":4.19,"y":1.4},{"p":"f","s":"2022","x":4.27,"y":0.9},{"p":"f","s":"2022","x":4.35,"y":0.5},{"p":"f","s":"2022","x":4.43,"y":0.0},{"p":"f","s":"2022","x":4.51,"y":-0.5},{"p":"f","s":"2022","x":4.59,"y":-0.9},{"p":"f","s":"2022","x":4.67,"y":-1.4},{"p":"f","s":"2022","x":4.75,"y":-1.9},{"p":"f","s":"2022","x":4.83,"y":-2.3},{"p":"f","s":"2022","x":4.91,"y":-2.8},{"p":"f","s":"2022","x":4.99,"y":-3.3},{"p":"f","s":"2022","x":5.07,"y":-3.8},{"p":"f","s":"2022","x":5.15,"y":-4.3},{"p":"f","s":"2022","x":5.23,"y":-4.7},{"p":"f","s":"2022","x":5.31,"y":-5.2},
{"p":"f","s":"2022","x":5.58,"y":-6.7},{"p":"f","s":"2022","x":5.83,"y":-8.4},{"p":"f","s":"2022","x":6.08,"y":-10.0},{"p":"f","s":"2022","x":6.33,"y":-11.8},{"p":"f","s":"2022","x":6.58,"y":-13.6},{"p":"f","s":"2022","x":6.83,"y":-15.4},{"p":"f","s":"2022","x":7.08,"y":-17.3},{"p":"f","s":"2022","x":7.33,"y":-19.4},{"p":"f","s":"2022","x":7.58,"y":-21.2},{"p":"f","s":"2022","x":7.83,"y":-23.1},{"p":"f","s":"2022","x":8.08,"y":-25.0},{"p":"f","s":"2022","x":8.33,"y":-27.0},{"p":"f","s":"2022","x":8.58,"y":-28.9},{"p":"f","s":"2022","x":8.83,"y":-30.8},{"p":"f","s":"2022","x":9.08,"y":-32.7},{"p":"f","s":"2022","x":9.33,"y":-34.4},{"p":"f","s":"2022","x":9.58,"y":-35.9},{"p":"f","s":"2022","x":9.83,"y":-37.6},{"p":"f","s":"2022","x":10.08,"y":-38.9},{"p":"f","s":"2022","x":10.33,"y":-40.3},{"p":"f","s":"2022","x":10.58,"y":-41.4},{"p":"f","s":"2022","x":10.83,"y":-42.9},{"p":"f","s":"2022","x":11.08,"y":-44.2},{"p":"f","s":"2022","x":11.33,"y":-45.9},{"p":"f","s":"2022","x":11.58,"y":-47.5},{"p":"f","s":"2022","x":11.83,"y":-49.0},{"p":"f","s":"2022","x":12.08,"y":-50.5},{"p":"f","s":"2022","x":12.33,"y":-51.9},{"p":"f","s":"2022","x":12.58,"y":-53.4},{"p":"f","s":"2022","x":12.83,"y":-54.9},{"p":"f","s":"2022","x":13.08,"y":-56.3},{"p":"f","s":"2022","x":13.33,"y":-58.0},

{"p":"g","s":"2021","x":4.28,"y":1.7},{"p":"g","s":"2021","x":4.36,"y":1.1},{"p":"g","s":"2021","x":4.44,"y":0.5},{"p":"g","s":"2021","x":4.52,"y":-0.1},{"p":"g","s":"2021","x":4.6,"y":-0.7},{"p":"g","s":"2021","x":4.68,"y":-1.3},{"p":"g","s":"2021","x":4.76,"y":-2.0},{"p":"g","s":"2021","x":4.84,"y":-2.6},{"p":"g","s":"2021","x":4.92,"y":-3.2},{"p":"g","s":"2021","x":5.0,"y":-3.8},{"p":"g","s":"2021","x":5.08,"y":-4.4},{"p":"g","s":"2021","x":5.16,"y":-5.0},{"p":"g","s":"2021","x":5.24,"y":-5.6},{"p":"g","s":"2021","x":5.32,"y":-6.3},{"p":"g","s":"2021","x":5.4,"y":-6.9},{"p":"g","s":"2021","x":5.48,"y":-7.5},{"p":"g","s":"2021","x":5.56,"y":-8.1},{"p":"g","s":"2021","x":5.64,"y":-8.7},{"p":"g","s":"2021","x":5.72,"y":-9.3},{"p":"g","s":"2021","x":5.8,"y":-10.0},{"p":"g","s":"2021","x":5.88,"y":-10.6},{"p":"g","s":"2021","x":5.96,"y":-11.2},{"p":"g","s":"2021","x":6.04,"y":-11.8},{"p":"g","s":"2021","x":6.12,"y":-12.5},{"p":"g","s":"2021","x":6.2,"y":-13.1},{"p":"g","s":"2021","x":6.26,"y":-13.6},
{"p":"g","s":"2021","x":6.49,"y":-15.4},{"p":"g","s":"2021","x":6.74,"y":-17.6},{"p":"g","s":"2021","x":6.99,"y":-19.7},{"p":"g","s":"2021","x":7.24,"y":-21.8},{"p":"g","s":"2021","x":7.49,"y":-23.7},{"p":"g","s":"2021","x":7.74,"y":-26.0},{"p":"g","s":"2021","x":7.99,"y":-28.1},{"p":"g","s":"2021","x":8.24,"y":-30.4},{"p":"g","s":"2021","x":8.49,"y":-32.6},{"p":"g","s":"2021","x":8.74,"y":-34.8},{"p":"g","s":"2021","x":8.99,"y":-36.8},{"p":"g","s":"2021","x":9.24,"y":-38.9},{"p":"g","s":"2021","x":9.49,"y":-41.2},{"p":"g","s":"2021","x":9.74,"y":-43.3},{"p":"g","s":"2021","x":9.99,"y":-45.4},{"p":"g","s":"2021","x":10.24,"y":-47.5},{"p":"g","s":"2021","x":10.49,"y":-49.4},{"p":"g","s":"2021","x":10.74,"y":-51.3},{"p":"g","s":"2021","x":10.99,"y":-52.9},{"p":"g","s":"2021","x":11.24,"y":-54.3},{"p":"g","s":"2021","x":11.49,"y":-55.6},{"p":"g","s":"2021","x":11.74,"y":-56.7},{"p":"g","s":"2021","x":11.99,"y":-57.6},{"p":"g","s":"2021","x":12.24,"y":-58.1},{"p":"g","s":"2021","x":12.49,"y":-58.5},{"p":"g","s":"2021","x":12.74,"y":-58.5},{"p":"g","s":"2021","x":12.99,"y":-58.4},{"p":"g","s":"2021","x":13.24,"y":-58.3},{"p":"g","s":"2021","x":13.49,"y":-58.1},{"p":"g","s":"2021","x":13.74,"y":-58.1},{"p":"g","s":"2021","x":13.99,"y":-58.3},{"p":"g","s":"2021","x":14.24,"y":-59.0},
{"p":"g","s":"2022","x":4.28,"y":-1.0},{"p":"g","s":"2022","x":4.36,"y":-1.6},{"p":"g","s":"2022","x":4.44,"y":-2.2},{"p":"g","s":"2022","x":4.52,"y":-2.8},{"p":"g","s":"2022","x":4.6,"y":-3.3},{"p":"g","s":"2022","x":4.68,"y":-3.9},{"p":"g","s":"2022","x":4.76,"y":-4.5},{"p":"g","s":"2022","x":4.84,"y":-5.1},{"p":"g","s":"2022","x":4.92,"y":-5.7},{"p":"g","s":"2022","x":5.0,"y":-6.2},{"p":"g","s":"2022","x":5.08,"y":-6.8},{"p":"g","s":"2022","x":5.16,"y":-7.4},{"p":"g","s":"2022","x":5.24,"y":-8.0},{"p":"g","s":"2022","x":5.32,"y":-8.6},{"p":"g","s":"2022","x":5.4,"y":-9.1},{"p":"g","s":"2022","x":5.48,"y":-9.7},{"p":"g","s":"2022","x":5.56,"y":-10.3},{"p":"g","s":"2022","x":5.64,"y":-10.9},{"p":"g","s":"2022","x":5.72,"y":-11.5},{"p":"g","s":"2022","x":5.8,"y":-12.0},{"p":"g","s":"2022","x":5.88,"y":-12.6},{"p":"g","s":"2022","x":5.96,"y":-13.2},{"p":"g","s":"2022","x":6.04,"y":-13.8},{"p":"g","s":"2022","x":6.12,"y":-14.4},{"p":"g","s":"2022","x":6.2,"y":-15.0},{"p":"g","s":"2022","x":6.27,"y":-15.6},
{"p":"g","s":"2022","x":6.51,"y":-17.1},{"p":"g","s":"2022","x":6.76,"y":-19.4},{"p":"g","s":"2022","x":7.01,"y":-21.4},{"p":"g","s":"2022","x":7.26,"y":-23.7},{"p":"g","s":"2022","x":7.51,"y":-25.8},{"p":"g","s":"2022","x":7.76,"y":-28.1},{"p":"g","s":"2022","x":8.01,"y":-30.2},{"p":"g","s":"2022","x":8.26,"y":-32.3},{"p":"g","s":"2022","x":8.51,"y":-34.5},{"p":"g","s":"2022","x":8.76,"y":-36.6},{"p":"g","s":"2022","x":9.01,"y":-38.9},{"p":"g","s":"2022","x":9.26,"y":-41.0},{"p":"g","s":"2022","x":9.51,"y":-43.1},{"p":"g","s":"2022","x":9.76,"y":-45.2},{"p":"g","s":"2022","x":10.01,"y":-47.5},{"p":"g","s":"2022","x":10.26,"y":-49.7},{"p":"g","s":"2022","x":10.51,"y":-51.8},{"p":"g","s":"2022","x":10.76,"y":-53.5},{"p":"g","s":"2022","x":11.01,"y":-55.0},{"p":"g","s":"2022","x":11.26,"y":-56.5},{"p":"g","s":"2022","x":11.51,"y":-57.7},{"p":"g","s":"2022","x":11.76,"y":-58.8},{"p":"g","s":"2022","x":12.01,"y":-59.7},{"p":"g","s":"2022","x":12.26,"y":-60.2},{"p":"g","s":"2022","x":12.51,"y":-60.8},{"p":"g","s":"2022","x":12.76,"y":-60.8},{"p":"g","s":"2022","x":13.01,"y":-60.7},{"p":"g","s":"2022","x":13.26,"y":-60.4},{"p":"g","s":"2022","x":13.51,"y":-59.8},{"p":"g","s":"2022","x":13.76,"y":-59.7},{"p":"g","s":"2022","x":14.01,"y":-59.7},{"p":"g","s":"2022","x":14.26,"y":-60.2},

{"p":"h","s":"2021","x":4.24,"y":1.5},{"p":"h","s":"2021","x":4.32,"y":0.9},{"p":"h","s":"2021","x":4.4,"y":0.3},{"p":"h","s":"2021","x":4.48,"y":-0.3},{"p":"h","s":"2021","x":4.56,"y":-0.9},{"p":"h","s":"2021","x":4.64,"y":-1.5},{"p":"h","s":"2021","x":4.72,"y":-2.1},{"p":"h","s":"2021","x":4.8,"y":-2.7},{"p":"h","s":"2021","x":4.88,"y":-3.3},{"p":"h","s":"2021","x":4.96,"y":-3.9},{"p":"h","s":"2021","x":5.04,"y":-4.5},{"p":"h","s":"2021","x":5.12,"y":-5.1},{"p":"h","s":"2021","x":5.2,"y":-5.7},{"p":"h","s":"2021","x":5.28,"y":-6.3},{"p":"h","s":"2021","x":5.36,"y":-6.9},{"p":"h","s":"2021","x":5.44,"y":-7.5},{"p":"h","s":"2021","x":5.52,"y":-8.2},{"p":"h","s":"2021","x":5.6,"y":-8.8},{"p":"h","s":"2021","x":5.68,"y":-9.4},{"p":"h","s":"2021","x":5.76,"y":-10.0},{"p":"h","s":"2021","x":5.84,"y":-10.6},{"p":"h","s":"2021","x":5.92,"y":-11.2},{"p":"h","s":"2021","x":6.0,"y":-11.8},{"p":"h","s":"2021","x":6.08,"y":-12.4},{"p":"h","s":"2021","x":6.16,"y":-13.0},{"p":"h","s":"2021","x":6.24,"y":-13.7},
{"p":"h","s":"2021","x":6.5,"y":-15.7},{"p":"h","s":"2021","x":6.75,"y":-17.7},{"p":"h","s":"2021","x":7.0,"y":-19.7},{"p":"h","s":"2021","x":7.25,"y":-21.8},{"p":"h","s":"2021","x":7.5,"y":-23.9},{"p":"h","s":"2021","x":7.75,"y":-26.0},{"p":"h","s":"2021","x":8.0,"y":-28.1},{"p":"h","s":"2021","x":8.25,"y":-30.4},{"p":"h","s":"2021","x":8.5,"y":-32.7},{"p":"h","s":"2021","x":8.75,"y":-35.0},{"p":"h","s":"2021","x":9.0,"y":-37.1},{"p":"h","s":"2021","x":9.25,"y":-39.3},{"p":"h","s":"2021","x":9.5,"y":-41.4},{"p":"h","s":"2021","x":9.75,"y":-43.6},{"p":"h","s":"2021","x":10.0,"y":-45.7},{"p":"h","s":"2021","x":10.25,"y":-47.8},{"p":"h","s":"2021","x":10.5,"y":-50.0},{"p":"h","s":"2021","x":10.75,"y":-51.8},{"p":"h","s":"2021","x":11.0,"y":-53.4},{"p":"h","s":"2021","x":11.25,"y":-54.8},{"p":"h","s":"2021","x":11.5,"y":-56.0},{"p":"h","s":"2021","x":11.75,"y":-57.0},{"p":"h","s":"2021","x":12.0,"y":-58.1},{"p":"h","s":"2021","x":12.25,"y":-58.6},{"p":"h","s":"2021","x":12.5,"y":-59.2},{"p":"h","s":"2021","x":12.75,"y":-59.3},{"p":"h","s":"2021","x":13.0,"y":-59.2},{"p":"h","s":"2021","x":13.25,"y":-59.1},{"p":"h","s":"2021","x":13.5,"y":-59.0},{"p":"h","s":"2021","x":13.75,"y":-58.8},{"p":"h","s":"2021","x":14.0,"y":-58.8},{"p":"h","s":"2021","x":14.25,"y":-59.3},
{"p":"h","s":"2022","x":4.24,"y":-3.1},{"p":"h","s":"2022","x":4.32,"y":-3.9},{"p":"h","s":"2022","x":4.4,"y":-4.6},{"p":"h","s":"2022","x":4.48,"y":-5.2},{"p":"h","s":"2022","x":4.56,"y":-5.6},{"p":"h","s":"2022","x":4.64,"y":-6.1},{"p":"h","s":"2022","x":4.72,"y":-6.6},{"p":"h","s":"2022","x":4.8,"y":-7.2},{"p":"h","s":"2022","x":4.88,"y":-7.6},{"p":"h","s":"2022","x":4.96,"y":-8.1},{"p":"h","s":"2022","x":5.04,"y":-8.6},{"p":"h","s":"2022","x":5.12,"y":-9.1},{"p":"h","s":"2022","x":5.2,"y":-9.6},{"p":"h","s":"2022","x":5.28,"y":-10.0},{"p":"h","s":"2022","x":5.36,"y":-10.5},{"p":"h","s":"2022","x":5.44,"y":-10.9},{"p":"h","s":"2022","x":5.52,"y":-11.4},{"p":"h","s":"2022","x":5.6,"y":-11.8},{"p":"h","s":"2022","x":5.68,"y":-12.3},{"p":"h","s":"2022","x":5.76,"y":-12.8},{"p":"h","s":"2022","x":5.84,"y":-13.3},{"p":"h","s":"2022","x":5.92,"y":-13.8},{"p":"h","s":"2022","x":6.0,"y":-14.4},{"p":"h","s":"2022","x":6.08,"y":-15.0},{"p":"h","s":"2022","x":6.16,"y":-15.8},{"p":"h","s":"2022","x":6.24,"y":-17.0},
{"p":"h","s":"2022","x":6.5,"y":-18.4},{"p":"h","s":"2022","x":6.75,"y":-20.7},{"p":"h","s":"2022","x":7.0,"y":-22.8},{"p":"h","s":"2022","x":7.25,"y":-24.8},{"p":"h","s":"2022","x":7.5,"y":-26.9},{"p":"h","s":"2022","x":7.75,"y":-29.2},{"p":"h","s":"2022","x":8.0,"y":-31.4},{"p":"h","s":"2022","x":8.25,"y":-33.5},{"p":"h","s":"2022","x":8.5,"y":-35.4},{"p":"h","s":"2022","x":8.75,"y":-37.7},{"p":"h","s":"2022","x":9.0,"y":-39.6},{"p":"h","s":"2022","x":9.25,"y":-41.7},{"p":"h","s":"2022","x":9.5,"y":-44.0},{"p":"h","s":"2022","x":9.75,"y":-46.1},{"p":"h","s":"2022","x":10.0,"y":-48.0},{"p":"h","s":"2022","x":10.25,"y":-50.4},{"p":"h","s":"2022","x":10.5,"y":-52.3},{"p":"h","s":"2022","x":10.75,"y":-54.2},{"p":"h","s":"2022","x":11.0,"y":-55.8},{"p":"h","s":"2022","x":11.25,"y":-57.4},{"p":"h","s":"2022","x":11.5,"y":-58.8},{"p":"h","s":"2022","x":11.75,"y":-60.0},{"p":"h","s":"2022","x":12.0,"y":-60.9},{"p":"h","s":"2022","x":12.25,"y":-61.2},{"p":"h","s":"2022","x":12.5,"y":-61.6},{"p":"h","s":"2022","x":12.75,"y":-61.5},{"p":"h","s":"2022","x":13.0,"y":-61.2},{"p":"h","s":"2022","x":13.25,"y":-60.7},{"p":"h","s":"2022","x":13.5,"y":-60.2},{"p":"h","s":"2022","x":13.75,"y":-59.8},{"p":"h","s":"2022","x":14.0,"y":-59.8},{"p":"h","s":"2022","x":14.25,"y":-60.2}
],
"fit":[
{"p":"a","s":"2021","x":4.28,"y":1.5},{"p":"a","s":"2021","x":14.29,"y":-63.0},{"p":"a","s":"2022","x":4.28,"y":-0.5},{"p":"a","s":"2022","x":14.29,"y":-66.5},
{"p":"b","s":"2021","x":4.26,"y":2.2},{"p":"b","s":"2021","x":14.28,"y":-64.1},{"p":"b","s":"2022","x":4.26,"y":4.8},{"p":"b","s":"2022","x":14.28,"y":-64.8},
{"p":"c","s":"2021","x":4.51,"y":-2.0},{"p":"c","s":"2021","x":14.49,"y":-69.9},{"p":"c","s":"2022","x":4.51,"y":-0.5},{"p":"c","s":"2022","x":14.49,"y":-69.7},
{"p":"d","s":"2021","x":4.49,"y":-1.8},{"p":"d","s":"2021","x":14.49,"y":-70.9},{"p":"d","s":"2022","x":4.49,"y":2.0},{"p":"d","s":"2022","x":14.49,"y":-71.0},
{"p":"e","s":"2021","x":3.34,"y":4.1},{"p":"e","s":"2021","x":13.33,"y":-58.5},{"p":"e","s":"2022","x":3.34,"y":3.5},{"p":"e","s":"2022","x":13.33,"y":-61.1},
{"p":"f","s":"2021","x":3.31,"y":5.1},{"p":"f","s":"2021","x":13.33,"y":-59.3},{"p":"f","s":"2022","x":3.31,"y":6.3},{"p":"f","s":"2022","x":13.33,"y":-59.6},
{"p":"g","s":"2021","x":4.28,"y":1.0},{"p":"g","s":"2021","x":14.3,"y":-70.6},{"p":"g","s":"2022","x":4.28,"y":-1.4},{"p":"g","s":"2022","x":14.3,"y":-72.1},
{"p":"h","s":"2021","x":4.24,"y":0.7},{"p":"h","s":"2021","x":14.3,"y":-71.4},{"p":"h","s":"2022","x":4.24,"y":-3.5},{"p":"h","s":"2022","x":14.3,"y":-72.9}
],
"adot":[
{"p":"a","s":"2021","x":9.22,"y":-15.2},{"p":"a","s":"2022","x":4.25,"y":-49.0},
{"p":"b","s":"2021","x":9.19,"y":-15.2},{"p":"b","s":"2022","x":3.95,"y":-49.0},
{"p":"c","s":"2021","x":9.22,"y":-15.5},{"p":"c","s":"2022","x":4.25,"y":-48.8},
{"p":"d","s":"2021","x":9.19,"y":-15.5},{"p":"d","s":"2022","x":3.95,"y":-48.8},
{"p":"e","s":"2021","x":9.22,"y":-16.3},{"p":"e","s":"2022","x":4.25,"y":-49.3},
{"p":"f","s":"2021","x":9.19,"y":-16.3},{"p":"f","s":"2022","x":3.95,"y":-49.3},
{"p":"g","s":"2021","x":9.22,"y":-17.1},{"p":"g","s":"2022","x":4.25,"y":-48.9},
{"p":"h","s":"2021","x":9.19,"y":-17.0},{"p":"h","s":"2022","x":3.95,"y":-48.9}
],
"atxt":[
{"p":"a","x":9.58,"y":-17.3,"t":"2021 March"},{"p":"a","x":9.58,"y":-24.9,"t":"k = -6.43 ± 0.03"},{"p":"a","x":4.58,"y":-51.5,"t":"2022 March"},{"p":"a","x":4.58,"y":-59.1,"t":"k = -6.60 ± 0.10"},
{"p":"b","x":9.53,"y":-16.9,"t":"2021 April"},{"p":"b","x":9.53,"y":-24.9,"t":"k = -6.59 ± 0.02"},{"p":"b","x":4.26,"y":-51.0,"t":"2022 April"},{"p":"b","x":4.26,"y":-59.1,"t":"k = -6.92 ± 0.05"},
{"p":"c","x":9.58,"y":-17.9,"t":"2021 March"},{"p":"c","x":9.58,"y":-25.4,"t":"k = -6.77 ± 0.12"},{"p":"c","x":4.58,"y":-51.2,"t":"2022 March"},{"p":"c","x":4.58,"y":-58.7,"t":"k = -6.92 ± 0.10"},
{"p":"d","x":9.53,"y":-17.9,"t":"2021 April"},{"p":"d","x":9.53,"y":-25.4,"t":"k = -6.78 ± 0.12"},{"p":"d","x":4.26,"y":-51.2,"t":"2022 April"},{"p":"d","x":4.26,"y":-58.7,"t":"k = -7.20 ± 0.09"},
{"p":"e","x":9.58,"y":-18.7,"t":"2021 March"},{"p":"e","x":9.58,"y":-26.2,"t":"k = -6.26 ± 0.02"},{"p":"e","x":4.58,"y":-51.7,"t":"2022 March"},{"p":"e","x":4.58,"y":-59.5,"t":"k = -6.51 ± 0.04"},
{"p":"f","x":9.53,"y":-18.7,"t":"2021 April"},{"p":"f","x":9.53,"y":-26.2,"t":"k = -6.51 ± 0.02"},{"p":"f","x":4.26,"y":-51.7,"t":"2022 April"},{"p":"f","x":4.26,"y":-59.5,"t":"k = -6.60 ± 0.02"},
{"p":"g","x":9.58,"y":-19.2,"t":"2021 March"},{"p":"g","x":9.58,"y":-26.9,"t":"k = -7.14 ± 0.11"},{"p":"g","x":4.58,"y":-51.1,"t":"2022 March"},{"p":"g","x":4.58,"y":-58.6,"t":"k = -7.08 ± 0.12"},
{"p":"h","x":9.53,"y":-18.8,"t":"2021 April"},{"p":"h","x":9.53,"y":-26.9,"t":"k = -7.19 ± 0.11"},{"p":"h","x":4.26,"y":-50.9,"t":"2022 April"},{"p":"h","x":4.26,"y":-58.6,"t":"k = -6.90 ± 0.11"}
],
"plab":[
{"p":"a","x":3.34,"y":6.5,"t":"(a)"},{"p":"b","x":3.22,"y":6.5,"t":"(b)"},
{"p":"c","x":3.36,"y":7.95,"t":"(c)"},{"p":"d","x":3.22,"y":7.95,"t":"(d)"},
{"p":"e","x":3.34,"y":8.4,"t":"(e)"},{"p":"f","x":3.22,"y":8.4,"t":"(f)"},
{"p":"g","x":3.34,"y":9.05,"t":"(g)"},{"p":"h","x":3.22,"y":9.05,"t":"(h)"}
]
},
"vconcat":[
{"title":{"text":"QOMS","fontSize":51,"anchor":"middle","dx":36,"offset":-27,"baseline":"alphabetic"},"spacing":118,"hconcat":[
 {"width":703,"height":422,
  "encoding":{"x":{"field":"x","type":"quantitative","scale":{"domain":[3,15],"nice":false,"zero":false},"axis":{"title":"Altitude (km)","values":[3,4,5,6,7,8,9,10,11,12,13,14,15],"labelExpr":"datum.value%2==0 && datum.value>=4 && datum.value<=14 ? datum.label : ''","tickSize":{"condition":{"test":"datum.value%2==0","value":11},"value":5}}},
   "y":{"field":"y","type":"quantitative","scale":{"domain":[-67.5,7.5],"nice":false,"zero":false},"axis":{"title":"Temperature (°C)","values":[7.5,0,-7.5,-15,-22.5,-30,-37.5,-45,-52.5,-60,-67.5],"labelExpr":"datum.value%15==0 ? datum.label : ''","tickSize":{"condition":{"test":"datum.value%15==0","value":11},"value":5}}}},
  "layer":[
   {"data":{"name":"pts"},"transform":[{"filter":"datum.p=='a'"}],"mark":{"type":"circle","size":110,"opacity":1},"encoding":{"color":{"field":"s","type":"nominal","scale":{"domain":["2021","2022"],"range":["#ff0000","#0000ff"]},"legend":null}}},
   {"data":{"name":"fit"},"transform":[{"filter":"datum.p=='a'"}],"mark":{"type":"line","color":"#000","strokeWidth":3.5,"clip":true},"encoding":{"detail":{"field":"s","type":"nominal"}}},
   {"data":{"name":"adot"},"transform":[{"filter":"datum.p=='a'"}],"mark":{"type":"circle","size":70,"opacity":1},"encoding":{"color":{"field":"s","type":"nominal","scale":{"domain":["2021","2022"],"range":["#ff0000","#0000ff"]},"legend":null}}},
   {"data":{"name":"atxt"},"transform":[{"filter":"datum.p=='a'"}],"mark":{"type":"text","align":"left","baseline":"alphabetic","fontSize":42,"font":"Liberation Serif","color":"#1a1a1a"},"encoding":{"text":{"field":"t","type":"nominal"}}},
   {"data":{"name":"plab"},"transform":[{"filter":"datum.p=='a'"}],"mark":{"type":"text","align":"left","baseline":"alphabetic","fontSize":47,"font":"Liberation Serif","color":"#1a1a1a"},"encoding":{"text":{"field":"t","type":"nominal"}}}
  ]},
 {"width":703,"height":422,
  "encoding":{"x":{"field":"x","type":"quantitative","scale":{"domain":[3,15],"nice":false,"zero":false},"axis":{"title":"Altitude (km)","values":[3,4,5,6,7,8,9,10,11,12,13,14,15],"labelExpr":"datum.value%2==0 && datum.value>=4 && datum.value<=14 ? datum.label : ''","tickSize":{"condition":{"test":"datum.value%2==0","value":11},"value":5}}},
   "y":{"field":"y","type":"quantitative","scale":{"domain":[-67.5,7.5],"nice":false,"zero":false},"axis":{"title":"Temperature (°C)","values":[7.5,0,-7.5,-15,-22.5,-30,-37.5,-45,-52.5,-60,-67.5],"labelExpr":"datum.value%15==0 ? datum.label : ''","tickSize":{"condition":{"test":"datum.value%15==0","value":11},"value":5}}}},
  "layer":[
   {"data":{"name":"pts"},"transform":[{"filter":"datum.p=='b'"}],"mark":{"type":"circle","size":110,"opacity":1},"encoding":{"color":{"field":"s","type":"nominal","scale":{"domain":["2021","2022"],"range":["#ff0000","#0000ff"]},"legend":null}}},
   {"data":{"name":"fit"},"transform":[{"filter":"datum.p=='b'"}],"mark":{"type":"line","color":"#000","strokeWidth":3.5,"clip":true},"encoding":{"detail":{"field":"s","type":"nominal"}}},
   {"data":{"name":"adot"},"transform":[{"filter":"datum.p=='b'"}],"mark":{"type":"circle","size":70,"opacity":1},"encoding":{"color":{"field":"s","type":"nominal","scale":{"domain":["2021","2022"],"range":["#ff0000","#0000ff"]},"legend":null}}},
   {"data":{"name":"atxt"},"transform":[{"filter":"datum.p=='b'"}],"mark":{"type":"text","align":"left","baseline":"alphabetic","fontSize":42,"font":"Liberation Serif","color":"#1a1a1a"},"encoding":{"text":{"field":"t","type":"nominal"}}},
   {"data":{"name":"plab"},"transform":[{"filter":"datum.p=='b'"}],"mark":{"type":"text","align":"left","baseline":"alphabetic","fontSize":47,"font":"Liberation Serif","color":"#1a1a1a"},"encoding":{"text":{"field":"t","type":"nominal"}}}
  ]}
]},
{"title":{"text":"Naqu","fontSize":51,"anchor":"middle","dx":36,"offset":-54,"baseline":"alphabetic"},"spacing":118,"hconcat":[
 {"width":703,"height":422,
  "encoding":{"x":{"field":"x","type":"quantitative","scale":{"domain":[3,15],"nice":false,"zero":false},"axis":{"title":"Altitude (km)","values":[3,4,5,6,7,8,9,10,11,12,13,14,15],"labelExpr":"datum.value%2==0 && datum.value>=4 && datum.value<=14 ? datum.label : ''","tickSize":{"condition":{"test":"datum.value%2==0","value":11},"value":5}}},
   "y":{"field":"y","type":"quantitative","scale":{"domain":[-67.5,7.5],"nice":false,"zero":false},"axis":{"title":"Temperature (°C)","values":[7.5,0,-7.5,-15,-22.5,-30,-37.5,-45,-52.5,-60,-67.5],"labelExpr":"datum.value%15==0 ? datum.label : ''","tickSize":{"condition":{"test":"datum.value%15==0","value":11},"value":5}}}},
  "layer":[
   {"data":{"name":"pts"},"transform":[{"filter":"datum.p=='c'"}],"mark":{"type":"circle","size":110,"opacity":1},"encoding":{"color":{"field":"s","type":"nominal","scale":{"domain":["2021","2022"],"range":["#ff0000","#0000ff"]},"legend":null}}},
   {"data":{"name":"fit"},"transform":[{"filter":"datum.p=='c'"}],"mark":{"type":"line","color":"#000","strokeWidth":3.5,"clip":true},"encoding":{"detail":{"field":"s","type":"nominal"}}},
   {"data":{"name":"adot"},"transform":[{"filter":"datum.p=='c'"}],"mark":{"type":"circle","size":70,"opacity":1},"encoding":{"color":{"field":"s","type":"nominal","scale":{"domain":["2021","2022"],"range":["#ff0000","#0000ff"]},"legend":null}}},
   {"data":{"name":"atxt"},"transform":[{"filter":"datum.p=='c'"}],"mark":{"type":"text","align":"left","baseline":"alphabetic","fontSize":42,"font":"Liberation Serif","color":"#1a1a1a"},"encoding":{"text":{"field":"t","type":"nominal"}}},
   {"data":{"name":"plab"},"transform":[{"filter":"datum.p=='c'"}],"mark":{"type":"text","align":"left","baseline":"alphabetic","fontSize":47,"font":"Liberation Serif","color":"#1a1a1a"},"encoding":{"text":{"field":"t","type":"nominal"}}}
  ]},
 {"width":703,"height":422,
  "encoding":{"x":{"field":"x","type":"quantitative","scale":{"domain":[3,15],"nice":false,"zero":false},"axis":{"title":"Altitude (km)","values":[3,4,5,6,7,8,9,10,11,12,13,14,15],"labelExpr":"datum.value%2==0 && datum.value>=4 && datum.value<=14 ? datum.label : ''","tickSize":{"condition":{"test":"datum.value%2==0","value":11},"value":5}}},
   "y":{"field":"y","type":"quantitative","scale":{"domain":[-67.5,7.5],"nice":false,"zero":false},"axis":{"title":"Temperature (°C)","values":[7.5,0,-7.5,-15,-22.5,-30,-37.5,-45,-52.5,-60,-67.5],"labelExpr":"datum.value%15==0 ? datum.label : ''","tickSize":{"condition":{"test":"datum.value%15==0","value":11},"value":5}}}},
  "layer":[
   {"data":{"name":"pts"},"transform":[{"filter":"datum.p=='d'"}],"mark":{"type":"circle","size":110,"opacity":1},"encoding":{"color":{"field":"s","type":"nominal","scale":{"domain":["2021","2022"],"range":["#ff0000","#0000ff"]},"legend":null}}},
   {"data":{"name":"fit"},"transform":[{"filter":"datum.p=='d'"}],"mark":{"type":"line","color":"#000","strokeWidth":3.5,"clip":true},"encoding":{"detail":{"field":"s","type":"nominal"}}},
   {"data":{"name":"adot"},"transform":[{"filter":"datum.p=='d'"}],"mark":{"type":"circle","size":70,"opacity":1},"encoding":{"color":{"field":"s","type":"nominal","scale":{"domain":["2021","2022"],"range":["#ff0000","#0000ff"]},"legend":null}}},
   {"data":{"name":"atxt"},"transform":[{"filter":"datum.p=='d'"}],"mark":{"type":"text","align":"left","baseline":"alphabetic","fontSize":42,"font":"Liberation Serif","color":"#1a1a1a"},"encoding":{"text":{"field":"t","type":"nominal"}}},
   {"data":{"name":"plab"},"transform":[{"filter":"datum.p=='d'"}],"mark":{"type":"text","align":"left","baseline":"alphabetic","fontSize":47,"font":"Liberation Serif","color":"#1a1a1a"},"encoding":{"text":{"field":"t","type":"nominal"}}}
  ]}
]},
{"title":{"text":"SETS","fontSize":51,"anchor":"middle","dx":36,"offset":-54,"baseline":"alphabetic"},"spacing":118,"hconcat":[
 {"width":703,"height":422,
  "encoding":{"x":{"field":"x","type":"quantitative","scale":{"domain":[3,15],"nice":false,"zero":false},"axis":{"title":"Altitude (km)","values":[3,4,5,6,7,8,9,10,11,12,13,14,15],"labelExpr":"datum.value%2==0 && datum.value>=4 && datum.value<=14 ? datum.label : ''","tickSize":{"condition":{"test":"datum.value%2==0","value":11},"value":5}}},
   "y":{"field":"y","type":"quantitative","scale":{"domain":[-67.5,7.5],"nice":false,"zero":false},"axis":{"title":"Temperature (°C)","values":[7.5,0,-7.5,-15,-22.5,-30,-37.5,-45,-52.5,-60,-67.5],"labelExpr":"datum.value%15==0 ? datum.label : ''","tickSize":{"condition":{"test":"datum.value%15==0","value":11},"value":5}}}},
  "layer":[
   {"data":{"name":"pts"},"transform":[{"filter":"datum.p=='e'"}],"mark":{"type":"circle","size":110,"opacity":1},"encoding":{"color":{"field":"s","type":"nominal","scale":{"domain":["2021","2022"],"range":["#ff0000","#0000ff"]},"legend":null}}},
   {"data":{"name":"fit"},"transform":[{"filter":"datum.p=='e'"}],"mark":{"type":"line","color":"#000","strokeWidth":3.5,"clip":true},"encoding":{"detail":{"field":"s","type":"nominal"}}},
   {"data":{"name":"adot"},"transform":[{"filter":"datum.p=='e'"}],"mark":{"type":"circle","size":70,"opacity":1},"encoding":{"color":{"field":"s","type":"nominal","scale":{"domain":["2021","2022"],"range":["#ff0000","#0000ff"]},"legend":null}}},
   {"data":{"name":"atxt"},"transform":[{"filter":"datum.p=='e'"}],"mark":{"type":"text","align":"left","baseline":"alphabetic","fontSize":42,"font":"Liberation Serif","color":"#1a1a1a"},"encoding":{"text":{"field":"t","type":"nominal"}}},
   {"data":{"name":"plab"},"transform":[{"filter":"datum.p=='e'"}],"mark":{"type":"text","align":"left","baseline":"alphabetic","fontSize":47,"font":"Liberation Serif","color":"#1a1a1a"},"encoding":{"text":{"field":"t","type":"nominal"}}}
  ]},
 {"width":703,"height":422,
  "encoding":{"x":{"field":"x","type":"quantitative","scale":{"domain":[3,15],"nice":false,"zero":false},"axis":{"title":"Altitude (km)","values":[3,4,5,6,7,8,9,10,11,12,13,14,15],"labelExpr":"datum.value%2==0 && datum.value>=4 && datum.value<=14 ? datum.label : ''","tickSize":{"condition":{"test":"datum.value%2==0","value":11},"value":5}}},
   "y":{"field":"y","type":"quantitative","scale":{"domain":[-67.5,7.5],"nice":false,"zero":false},"axis":{"title":"Temperature (°C)","values":[7.5,0,-7.5,-15,-22.5,-30,-37.5,-45,-52.5,-60,-67.5],"labelExpr":"datum.value%15==0 ? datum.label : ''","tickSize":{"condition":{"test":"datum.value%15==0","value":11},"value":5}}}},
  "layer":[
   {"data":{"name":"pts"},"transform":[{"filter":"datum.p=='f'"}],"mark":{"type":"circle","size":110,"opacity":1},"encoding":{"color":{"field":"s","type":"nominal","scale":{"domain":["2021","2022"],"range":["#ff0000","#0000ff"]},"legend":null}}},
   {"data":{"name":"fit"},"transform":[{"filter":"datum.p=='f'"}],"mark":{"type":"line","color":"#000","strokeWidth":3.5,"clip":true},"encoding":{"detail":{"field":"s","type":"nominal"}}},
   {"data":{"name":"adot"},"transform":[{"filter":"datum.p=='f'"}],"mark":{"type":"circle","size":70,"opacity":1},"encoding":{"color":{"field":"s","type":"nominal","scale":{"domain":["2021","2022"],"range":["#ff0000","#0000ff"]},"legend":null}}},
   {"data":{"name":"atxt"},"transform":[{"filter":"datum.p=='f'"}],"mark":{"type":"text","align":"left","baseline":"alphabetic","fontSize":42,"font":"Liberation Serif","color":"#1a1a1a"},"encoding":{"text":{"field":"t","type":"nominal"}}},
   {"data":{"name":"plab"},"transform":[{"filter":"datum.p=='f'"}],"mark":{"type":"text","align":"left","baseline":"alphabetic","fontSize":47,"font":"Liberation Serif","color":"#1a1a1a"},"encoding":{"text":{"field":"t","type":"nominal"}}}
  ]}
]},
{"title":{"text":"NADOR","fontSize":51,"anchor":"middle","dx":36,"offset":-54,"baseline":"alphabetic"},"spacing":118,"hconcat":[
 {"width":703,"height":422,
  "encoding":{"x":{"field":"x","type":"quantitative","scale":{"domain":[3,15],"nice":false,"zero":false},"axis":{"title":"Altitude (km)","values":[3,4,5,6,7,8,9,10,11,12,13,14,15],"labelExpr":"datum.value%2==0 && datum.value>=4 && datum.value<=14 ? datum.label : ''","tickSize":{"condition":{"test":"datum.value%2==0","value":11},"value":5}}},
   "y":{"field":"y","type":"quantitative","scale":{"domain":[-67.5,7.5],"nice":false,"zero":false},"axis":{"title":"Temperature (°C)","values":[7.5,0,-7.5,-15,-22.5,-30,-37.5,-45,-52.5,-60,-67.5],"labelExpr":"datum.value%15==0 ? datum.label : ''","tickSize":{"condition":{"test":"datum.value%15==0","value":11},"value":5}}}},
  "layer":[
   {"data":{"name":"pts"},"transform":[{"filter":"datum.p=='g'"}],"mark":{"type":"circle","size":110,"opacity":1},"encoding":{"color":{"field":"s","type":"nominal","scale":{"domain":["2021","2022"],"range":["#ff0000","#0000ff"]},"legend":null}}},
   {"data":{"name":"fit"},"transform":[{"filter":"datum.p=='g'"}],"mark":{"type":"line","color":"#000","strokeWidth":3.5,"clip":true},"encoding":{"detail":{"field":"s","type":"nominal"}}},
   {"data":{"name":"adot"},"transform":[{"filter":"datum.p=='g'"}],"mark":{"type":"circle","size":70,"opacity":1},"encoding":{"color":{"field":"s","type":"nominal","scale":{"domain":["2021","2022"],"range":["#ff0000","#0000ff"]},"legend":null}}},
   {"data":{"name":"atxt"},"transform":[{"filter":"datum.p=='g'"}],"mark":{"type":"text","align":"left","baseline":"alphabetic","fontSize":42,"font":"Liberation Serif","color":"#1a1a1a"},"encoding":{"text":{"field":"t","type":"nominal"}}},
   {"data":{"name":"plab"},"transform":[{"filter":"datum.p=='g'"}],"mark":{"type":"text","align":"left","baseline":"alphabetic","fontSize":47,"font":"Liberation Serif","color":"#1a1a1a"},"encoding":{"text":{"field":"t","type":"nominal"}}}
  ]},
 {"width":703,"height":422,
  "encoding":{"x":{"field":"x","type":"quantitative","scale":{"domain":[3,15],"nice":false,"zero":false},"axis":{"title":"Altitude (km)","values":[3,4,5,6,7,8,9,10,11,12,13,14,15],"labelExpr":"datum.value%2==0 && datum.value>=4 && datum.value<=14 ? datum.label : ''","tickSize":{"condition":{"test":"datum.value%2==0","value":11},"value":5}}},
   "y":{"field":"y","type":"quantitative","scale":{"domain":[-67.5,7.5],"nice":false,"zero":false},"axis":{"title":"Temperature (°C)","values":[7.5,0,-7.5,-15,-22.5,-30,-37.5,-45,-52.5,-60,-67.5],"labelExpr":"datum.value%15==0 ? datum.label : ''","tickSize":{"condition":{"test":"datum.value%15==0","value":11},"value":5}}}},
  "layer":[
   {"data":{"name":"pts"},"transform":[{"filter":"datum.p=='h'"}],"mark":{"type":"circle","size":110,"opacity":1},"encoding":{"color":{"field":"s","type":"nominal","scale":{"domain":["2021","2022"],"range":["#ff0000","#0000ff"]},"legend":null}}},
   {"data":{"name":"fit"},"transform":[{"filter":"datum.p=='h'"}],"mark":{"type":"line","color":"#000","strokeWidth":3.5,"clip":true},"encoding":{"detail":{"field":"s","type":"nominal"}}},
   {"data":{"name":"adot"},"transform":[{"filter":"datum.p=='h'"}],"mark":{"type":"circle","size":70,"opacity":1},"encoding":{"color":{"field":"s","type":"nominal","scale":{"domain":["2021","2022"],"range":["#ff0000","#0000ff"]},"legend":null}}},
   {"data":{"name":"atxt"},"transform":[{"filter":"datum.p=='h'"}],"mark":{"type":"text","align":"left","baseline":"alphabetic","fontSize":42,"font":"Liberation Serif","color":"#1a1a1a"},"encoding":{"text":{"field":"t","type":"nominal"}}},
   {"data":{"name":"plab"},"transform":[{"filter":"datum.p=='h'"}],"mark":{"type":"text","align":"left","baseline":"alphabetic","fontSize":47,"font":"Liberation Serif","color":"#1a1a1a"},"encoding":{"text":{"field":"t","type":"nominal"}}}
  ]}
]}
]
}
